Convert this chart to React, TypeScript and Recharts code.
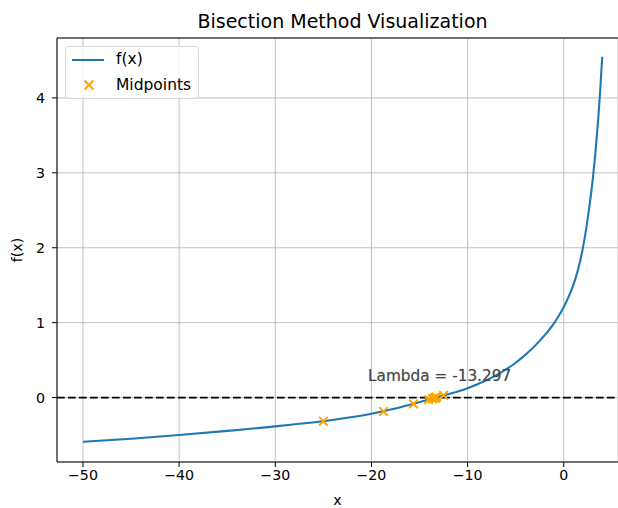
import React from 'react';
import { ComposedChart, Line, Scatter, XAxis, YAxis, CartesianGrid, ReferenceLine } from 'recharts';

// f(x) curve
const curveX = [-50, -45, -40, -35, -30, -27.5, -25, -22.5, -20, -18, -16, -14, -13.3, -12, -10, -8, -7, -6, -5, -4, -3, -2, -1, -0.5, 0, 0.5, 1, 1.5, 2, 2.5, 3, 3.3, 3.6, 3.8, 4];
const curveY = [-0.59, -0.55, -0.5, -0.445, -0.385, -0.35, -0.315, -0.27, -0.215, -0.16, -0.095, -0.025, 0, 0.045, 0.125, 0.235, 0.3, 0.375, 0.465, 0.57, 0.69, 0.83, 0.995, 1.095, 1.21, 1.345, 1.505, 1.715, 2.005, 2.4, 2.9, 3.28, 3.75, 4.12, 4.55];

// bisection midpoints
const midX = [-25, -12.5, -18.75, -15.625, -14.0625, -13.28125, -13.671875, -13.4765625, -13.37890625, -13.330078, -13.305664, -13.293457, -13.299561, -13.296509];
const midY = [-0.315, 0.03, -0.185, -0.085, -0.028, 0.001, -0.014, -0.007, -0.003, -0.001, -0.0003, 0.0001, -0.0001, 0];

const xTicks = [-50, -40, -30, -20, -10, 0];
const yTicks = [0, 1, 2, 3, 4];
const rootText = 'Lambda = -13.297';

const curve = curveX.map((x, i) => ({ x, y: curveY[i] }));
const mids = midX.map((x, i) => ({ x, y: midY[i] }));

const FONT = '"DejaVu Sans", sans-serif';
const minus = (v: number) => String(v).replace('-', '\u2212');

const Cross = (props: any) => {
  const { cx, cy } = props;
  if (cx == null || cy == null) return null;
  const s = 4.3;
  return (
    <path
      d={`M${cx - s},${cy - s}L${cx + s},${cy + s}M${cx - s},${cy + s}L${cx + s},${cy - s}`}
      stroke="#ffa500"
      strokeWidth={2}
      fill="none"
    />
  );
};

export default function App() {
  return (
    <div style={{ position: 'absolute', left: 0, top: 0, width: 618, height: 508, background: '#fff', fontFamily: FONT, overflow: 'hidden' }}>
      <div style={{ position: 'absolute', left: 57, width: 571, top: 8, textAlign: 'center', fontSize: 19, lineHeight: '26px', color: '#000' }}>
        Bisection Method Visualization
      </div>

      <ComposedChart width={618} height={508} margin={{ top: 38, right: 0, bottom: 0, left: 0 }} style={{ fontFamily: FONT }}>
        <CartesianGrid stroke="#b0b0b0" strokeWidth={0.8} />
        <XAxis
          dataKey="x"
          type="number"
          domain={[-52.7, 5.64]}
          ticks={xTicks}
          allowDataOverflow
          height={46}
          tickFormatter={minus}
          tick={{ fill: '#000', fontSize: 14.2 }}
          tickSize={5}
          tickMargin={3}
          stroke="#000"
          label={{ value: 'x', position: 'insideBottom', offset: 3, fill: '#000', fontSize: 14.2 }}
        />
        <YAxis
          type="number"
          domain={[-0.86, 4.8]}
          ticks={yTicks}
          allowDataOverflow
          width={57}
          tickFormatter={minus}
          tick={{ fill: '#000', fontSize: 14.2 }}
          tickSize={5}
          tickMargin={7}
          stroke="#000"
          label={{ value: 'f(x)', angle: -90, position: 'insideLeft', offset: 17, fill: '#000', fontSize: 14.2, style: { textAnchor: 'middle' } }}
        />
        <ReferenceLine y={4.8} stroke="#000" strokeWidth={1.1} />
        <ReferenceLine y={0} stroke="#000" strokeWidth={1.6} strokeDasharray="7.7 3.3" />
        <Line data={curve} dataKey="y" type="monotone" stroke="#1f77b4" strokeWidth={2.1} dot={false} isAnimationActive={false} />
        <Scatter data={mids} dataKey="y" shape={<Cross />} isAnimationActive={false} />
      </ComposedChart>

      <div style={{ position: 'absolute', left: 368, top: 366, fontSize: 15.3, color: '#4a4a4a', textShadow: '0 0 1px rgba(0,0,0,0.35)', whiteSpace: 'nowrap', lineHeight: '20px' }}>
        {rootText}
      </div>

      <div style={{ position: 'absolute', left: 65, top: 46, width: 132, height: 51, border: '1px solid #d9d9d9', borderRadius: 3, background: 'rgba(255,255,255,0.8)', fontSize: 15.5, color: '#000' }}>
        <div style={{ position: 'absolute', left: 6, top: 12, width: 32, height: 2, background: '#1f77b4' }} />
        <div style={{ position: 'absolute', left: 50, top: 2, lineHeight: '20px' }}>f(x)</div>
        <svg style={{ position: 'absolute', left: 17, top: 32 }} width={12} height={12}>
          <path d="M1.5,1.5L10.5,10.5M1.5,10.5L10.5,1.5" stroke="#ffa500" strokeWidth={2} />
        </svg>
        <div style={{ position: 'absolute', left: 50, top: 28, lineHeight: '20px' }}>Midpoints</div>
      </div>
    </div>
  );
}
